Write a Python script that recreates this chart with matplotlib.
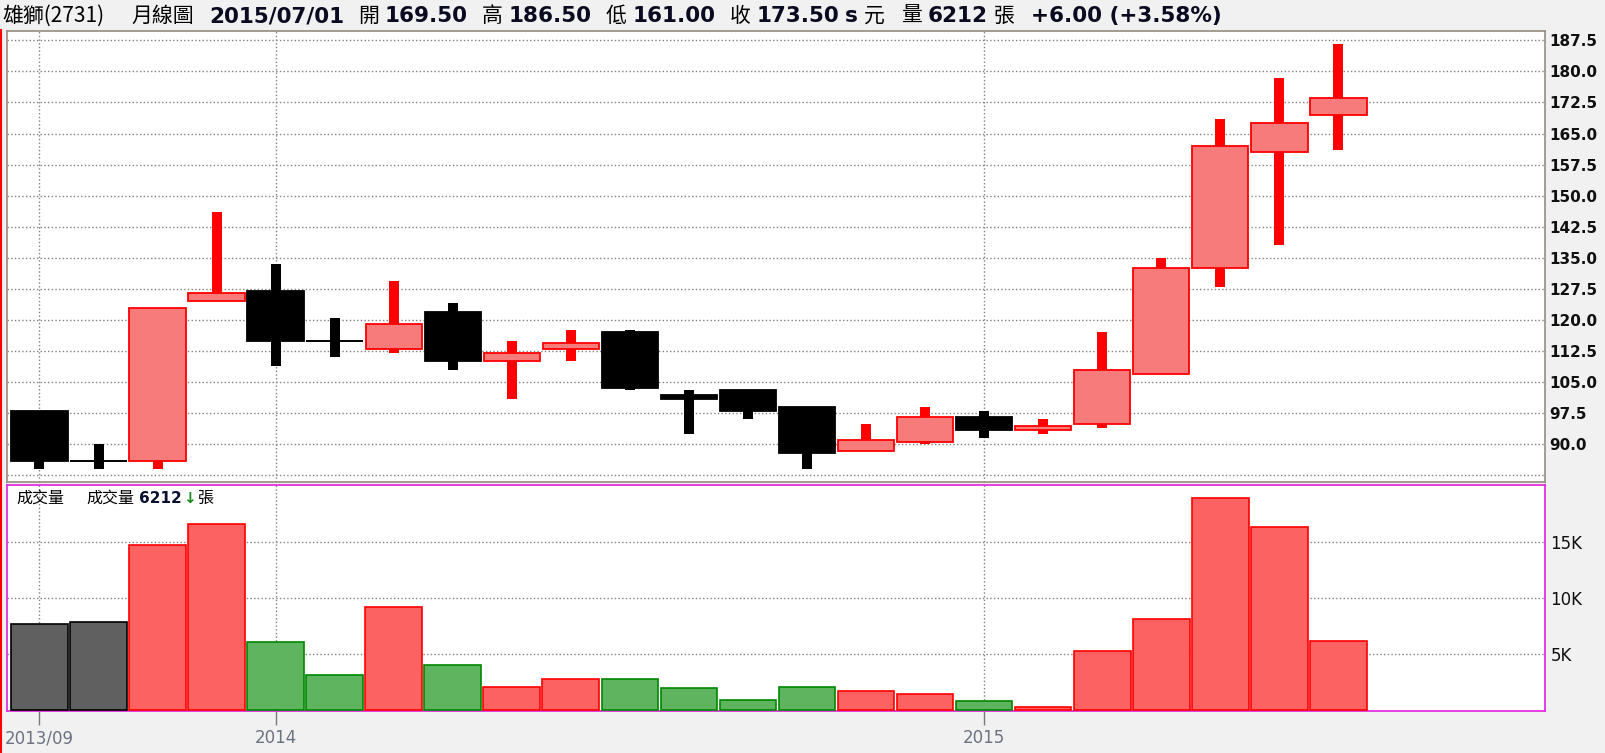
import numpy as np
import matplotlib
matplotlib.use("Agg")
import matplotlib.pyplot as plt
from matplotlib.lines import Line2D

plt.rcParams['font.family'] = ['DejaVu Sans', 'Noto Sans CJK TC']
CJK = ['Noto Sans CJK TC', 'DejaVu Sans']

# monthly candles 2013/09 .. 2015/07
months = ['2013/09', '2013/10', '2013/11', '2013/12', '2014/01', '2014/02', '2014/03',
          '2014/04', '2014/05', '2014/06', '2014/07', '2014/08', '2014/09', '2014/10',
          '2014/11', '2014/12', '2015/01', '2015/02', '2015/03', '2015/04', '2015/05',
          '2015/06', '2015/07']
opens = [98.0, 86.0, 86.0, 124.5, 127.0, 115.0, 113.0, 122.0, 110.0, 113.0, 117.0, 102.0,
         103.0, 99.0, 88.5, 90.5, 96.5, 93.5, 95.0, 107.0, 132.5, 160.5, 169.5]
highs = [98.0, 90.0, 123.0, 146.0, 133.5, 120.5, 129.5, 124.0, 115.0, 117.5, 117.5, 103.0,
         103.0, 99.0, 95.0, 99.0, 98.0, 96.0, 117.0, 135.0, 168.5, 178.5, 186.5]
lows = [84.0, 84.0, 84.0, 124.5, 109.0, 111.0, 112.0, 108.0, 101.0, 110.0, 103.0, 92.5,
        96.0, 84.0, 88.5, 90.0, 91.5, 92.5, 94.0, 107.0, 128.0, 138.0, 161.0]
closes = [86.0, 86.0, 123.0, 126.5, 115.0, 115.0, 119.0, 110.0, 112.0, 114.5, 103.5, 101.0,
          98.0, 88.0, 91.0, 96.5, 93.5, 94.5, 108.0, 132.5, 162.0, 167.5, 173.5]
volumes = [7680, 7860, 14730, 16640, 6070, 3130, 9200, 4020, 2050, 2770, 2770, 1960, 890,
           2050, 1700, 1430, 800, 330, 5270, 8130, 18930, 16340, 6212]
n_gray_vol = 2   # first two volume bars are drawn gray in the reference

price_ticks = [82.5, 90.0, 97.5, 105.0, 112.5, 120.0, 127.5, 135.0, 142.5, 150.0,
               157.5, 165.0, 172.5, 180.0, 187.5]
vol_ticks = [5000, 10000, 15000]
vol_labels = ['5K', '10K', '15K']
x_tick_idx = [0, 4, 16]
x_tick_labels = ['2013/09', '2014', '2015']

W, H = 1606, 753
fig = plt.figure(figsize=(W / 100, H / 100), dpi=100)
fig.patch.set_facecolor('#F0F1F0')

def px_axes(x0, y0, x1, y1):
    return fig.add_axes([x0 / W, 1 - y1 / H, (x1 - x0) / W, (y1 - y0) / H])

ax = px_axes(7, 31, 1545, 482)
axv = px_axes(7, 485, 1545, 711)

x = np.arange(len(opens))
o = np.array(opens); c = np.array(closes); hi = np.array(highs); lo = np.array(lows)
up = c > o
doji = np.abs(c - o) < 0.01

# wicks
wick_col = ['#FF0000' if u else '#000000' for u in up]
ax.bar(x, hi - lo, bottom=lo, width=10 / 59, color=wick_col, linewidth=0, zorder=3)
# bodies
body = ~doji
fill = ['#F87B7B' if u else '#000000' for u in up]
edge = ['#FF0000' if u else '#000000' for u in up]
ax.bar(x[body], np.abs(c - o)[body], bottom=np.minimum(o, c)[body], width=0.955,
       color=[fill[i] for i in x[body]], edgecolor=[edge[i] for i in x[body]],
       linewidth=1.3, zorder=4)
ax.hlines(c[doji], x[doji] - 0.48, x[doji] + 0.48, color='#000000', linewidth=1.4, zorder=4)

ax.set_xlim(-0.55, 25.5)
ax.set_ylim(80.9, 189.75)
ax.set_yticks(price_ticks)
ax.set_yticklabels(['' if t == 82.5 else f'{t:.1f}' for t in price_ticks],
                   fontsize=11, fontweight='bold', color='#101010')
ax.yaxis.tick_right()
ax.tick_params(axis='y', length=0, pad=3)
ax.set_xticks(x_tick_idx)
ax.tick_params(axis='x', length=0, labelbottom=False)
ax.grid(True, linestyle=':', color='#808080', linewidth=1)
ax.set_axisbelow(True)
for s in ax.spines.values():
    s.set_color('#968C7D')
    s.set_linewidth(1.2)

# volume
vcol, vedge = [], []
for i, u in enumerate(up):
    if i < n_gray_vol:
        vcol.append('#606060'); vedge.append('#000000')
    elif u:
        vcol.append('#FC6262'); vedge.append('#FF0000')
    else:
        vcol.append('#5FB45F'); vedge.append('#008800')
axv.bar(x, volumes, width=0.96, color=vcol, edgecolor=vedge, linewidth=1.2, zorder=3)
axv.set_xlim(-0.55, 25.5)
axv.set_ylim(-60, 20100)
axv.set_yticks(vol_ticks)
axv.set_yticklabels(vol_labels, fontsize=12, color='#101010')
axv.yaxis.tick_right()
axv.tick_params(axis='y', length=0, pad=4)
axv.set_xticks(x_tick_idx)
axv.set_xticklabels(x_tick_labels, fontsize=12, color='#6B7282')
axv.tick_params(axis='x', length=10, width=1, color='#7A7A7A', pad=3)
axv.grid(True, linestyle=':', color='#808080', linewidth=1)
axv.set_axisbelow(True)
for s in axv.spines.values():
    s.set_color('#E020E0')
    s.set_linewidth(1.2)

axv.text(9 / 1538, 0.94, '成交量', transform=axv.transAxes, fontsize=11.5,
         family=CJK, va='center', ha='left')
axv.text(79 / 1538, 0.94, '成交量', transform=axv.transAxes, fontsize=11.5,
         family=CJK, va='center', ha='left')
axv.text(132 / 1538, 0.94, str(volumes[-1]), transform=axv.transAxes, fontsize=11,
         fontweight='bold', color='#0A1030', va='center', ha='left')
axv.text(176 / 1538, 0.94, '↓', transform=axv.transAxes, fontsize=11,
         fontweight='bold', color='#1A8A1A', va='center', ha='left')
axv.text(190 / 1538, 0.94, '張', transform=axv.transAxes, fontsize=11.5,
         family=CJK, va='center', ha='left')

# title line, laid out left to right
renderer = fig.canvas.get_renderer()
title_y = 1 - 16 / H

def put(px, t, kind):
    if kind == 'cjk':
        txt = fig.text(px / W, title_y, t, family=CJK, fontsize=15, va='center',
                       ha='left', color='#000000')
    else:
        txt = fig.text(px / W, title_y, t, fontsize=15.5, fontweight='bold', va='center',
                       ha='left', color='#0A0A20')
    bb = txt.get_window_extent(renderer)
    return bb.x1

put(2, '雄獅(2731)', 'cjk')
put(131, '月線圖', 'cjk')
end = put(209, '2015/07/01', 'b')
chain = [('開', f'{opens[-1]:.2f}'), ('高', f'{highs[-1]:.2f}'),
         ('低', f'{lows[-1]:.2f}'), ('收', f'{closes[-1]:.2f}')]
pos = end + 14
for lab, num in chain:
    end = put(pos, lab, 'cjk')
    end = put(end + 6, num, 'b')
    pos = end + 14
end = put(end + 6, 's', 'b')
end = put(end + 6, '元', 'cjk')
end = put(end + 16, '量', 'cjk')
end = put(end + 6, str(volumes[-1]), 'b')
end = put(end + 6, '張', 'cjk')
put(end + 16, '+6.00 (+3.58%)', 'b')

fig.add_artist(Line2D([1.5 / W, 1.5 / W], [0, 1 - 30 / H], color='#FF0000', linewidth=1.5))

fig.savefig('out.png', dpi=100, facecolor=fig.get_facecolor())
